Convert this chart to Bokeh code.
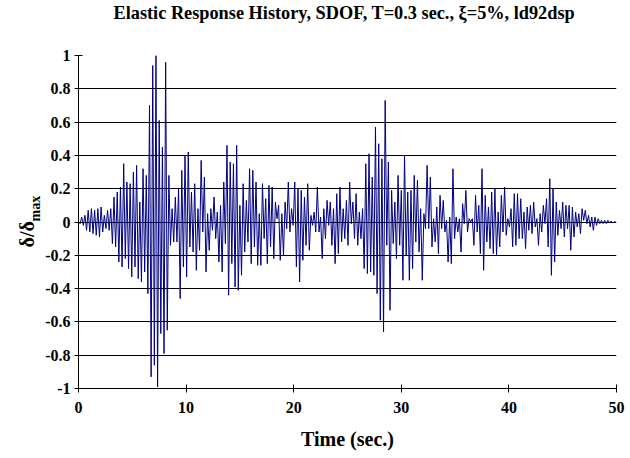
import numpy as np
from bokeh.plotting import figure
from bokeh.models import Title, FixedTicker, Range1d, CustomJSTickFormatter
from bokeh.embed import file_html
from bokeh.resources import INLINE

# ---- data: successive response extremes (delta/delta_max), one every half cycle (0.15 s) ----
half_cycle = 0.15  # s, T = 0.3 s
ext_00_03 = [0.00, -0.01, 0.03, -0.02, 0.04, -0.05, 0.07, -0.06, 0.08, -0.07,
             0.07, -0.08, 0.08, -0.09, 0.09, -0.06, 0.04, -0.04, 0.07, -0.05]
ext_03_06 = [0.08, -0.13, 0.15, -0.15, 0.18, -0.24, 0.21, -0.27, 0.35, -0.22,
             0.24, -0.28, 0.23, -0.33, 0.30, -0.27, 0.34, -0.34, 0.12, -0.36]
ext_06_09 = [0.32, -0.30, 0.28, -0.43, 0.70, -0.93, 0.94, -0.86, 1.00, -0.99,
             0.61, -0.67, 0.45, -0.79, 0.96, -0.65, 0.28, -0.14, 0.08, -0.12]
ext_09_12 = [0.15, -0.12, 0.20, -0.46, 0.31, -0.27, 0.40, -0.33, 0.42, -0.15,
             0.18, -0.18, 0.23, -0.29, 0.08, -0.17, 0.37, -0.06, 0.27, -0.30]
ext_12_15 = [0.05, -0.17, 0.08, -0.05, 0.15, -0.10, 0.06, -0.24, 0.10, -0.30,
             0.24, -0.13, 0.46, -0.44, 0.36, -0.25, 0.35, -0.39, 0.46, -0.41]
ext_15_18 = [0.10, -0.32, 0.23, -0.18, 0.13, -0.12, 0.32, -0.25, 0.31, -0.15,
             0.24, -0.26, 0.05, -0.26, 0.23, -0.10, 0.14, -0.25, 0.22, -0.15]
ext_18_21 = [0.21, -0.22, 0.12, 0.02, 0.10, -0.23, 0.05, -0.20, 0.12, -0.04,
             0.24, -0.06, 0.08, -0.02, 0.24, -0.27, 0.20, -0.36, 0.19, -0.23]
ext_21_24 = [0.15, -0.14, 0.23, -0.17, 0.04, -0.02, 0.06, -0.06, 0.21, -0.06,
             0.03, -0.22, 0.08, -0.10, 0.13, -0.02, 0.12, -0.14, 0.08, -0.25]
ext_24_27 = [0.17, -0.19, 0.21, -0.12, 0.08, -0.10, 0.13, -0.14, 0.24, -0.01,
             0.12, -0.10, 0.17, -0.14, 0.06, -0.10, 0.08, -0.28, 0.35, -0.31]
ext_27_30 = [0.41, -0.30, 0.27, -0.32, 0.57, -0.43, 0.47, -0.59, 0.38, -0.66,
             0.73, -0.14, 0.36, -0.53, 0.19, -0.13, 0.12, -0.22, 0.28, -0.14]
ext_30_33 = [0.19, -0.35, 0.40, -0.20, 0.18, -0.35, 0.19, -0.28, 0.28, -0.12,
             0.25, -0.18, 0.08, -0.35, 0.05, -0.04, 0.34, -0.04, 0.27, -0.15]
ext_33_36 = [0.02, -0.12, 0.09, -0.19, 0.16, -0.04, 0.13, -0.06, 0.01, -0.24,
             0.03, -0.25, 0.32, -0.10, 0.03, -0.06, 0.02, -0.18, 0.11, -0.01]
ext_36_39 = [0.19, -0.06, 0.02, 0.00, 0.02, -0.14, 0.16, -0.06, 0.10, -0.19,
             0.32, -0.29, 0.16, -0.12, 0.09, -0.16, 0.18, -0.19, 0.20, -0.20]
ext_39_42 = [0.06, -0.15, 0.16, -0.06, 0.21, -0.08, 0.02, -0.03, 0.08, -0.15,
             0.17, -0.14, 0.17, -0.10, 0.14, -0.10, 0.06, -0.16, 0.09, -0.05]
ext_42_45 = [0.10, -0.07, 0.12, -0.03, 0.02, -0.14, 0.05, -0.06, 0.10, -0.01,
             0.14, -0.15, 0.26, -0.32, 0.20, -0.24, 0.12, -0.08, 0.07, -0.04]
ext_45_48 = [0.12, -0.09, 0.10, -0.04, 0.10, -0.17, 0.09, -0.09, 0.06, -0.03,
             0.05, -0.07, 0.08, 0.01, 0.07, -0.01, 0.04, -0.03, 0.03, -0.05]
ext_48_50 = [0.03, -0.02, 0.02, -0.01, 0.01, -0.01, 0.01, -0.01, 0.01, -0.005,
             0.005, -0.005, 0.0, 0.0]

x_ticks = [0, 10, 20, 30, 40, 50]
y_ticks = [-1, -0.8, -0.6, -0.4, -0.2, 0, 0.2, 0.4, 0.6, 0.8, 1]

title_text = "Elastic Response History, SDOF, T=0.3 sec., \u03be=5%, ld92dsp"
x_label = "Time (sec.)"
y_label_main = "\u03b4/\u03b4"
y_label_sub = "max"

response = np.array(ext_00_03 + ext_03_06 + ext_06_09 + ext_09_12 + ext_12_15 +
                    ext_15_18 + ext_18_21 + ext_21_24 + ext_24_27 + ext_27_30 +
                    ext_30_33 + ext_33_36 + ext_36_39 + ext_39_42 + ext_42_45 +
                    ext_45_48 + ext_48_50)
time = np.arange(len(response)) * half_cycle

# ---- figure ----
FONT = "Liberation Serif"
p = figure(width=630, height=458, output_backend="svg", toolbar_location=None,
           x_range=Range1d(0, 50), y_range=Range1d(-1, 1),
           min_border_left=78, min_border_right=14, min_border_top=55, min_border_bottom=70)
p.outline_line_color = None
p.background_fill_color = "white"
p.border_fill_color = "white"

p.xgrid.visible = False
p.ygrid.ticker = FixedTicker(ticks=y_ticks)
p.ygrid.grid_line_color = "black"
p.ygrid.grid_line_width = 1

p.xaxis.ticker = FixedTicker(ticks=x_ticks)
p.yaxis.ticker = FixedTicker(ticks=y_ticks)
fmt = CustomJSTickFormatter(code="return tick.toFixed(1).replace(/\\.0$/, '');")
p.yaxis.formatter = fmt
p.xaxis.formatter = fmt

for ax in (p.xaxis[0], p.yaxis[0]):
    ax.axis_line_color = "black"
    ax.axis_line_width = 1
    ax.major_tick_line_color = "black"
    ax.major_tick_in = 4
    ax.major_tick_out = 4
    ax.minor_tick_line_color = None
    ax.major_label_text_font = FONT
    ax.major_label_text_font_style = "bold"
    ax.major_label_text_font_size = "16px"
    ax.major_label_text_color = "black"
p.xaxis.major_label_standoff = 9
p.yaxis.major_label_standoff = 4

p.xaxis.axis_label = x_label
p.xaxis.axis_label_text_font = FONT
p.xaxis.axis_label_text_font_style = "bold"
p.xaxis.axis_label_text_font_size = "20px"
p.xaxis.axis_label_text_color = "black"
p.xaxis.axis_label_standoff = 12

p.line(time, response, line_color="#000080", line_width=1)

# title (spacer panel nearest the frame, then the title text)
p.add_layout(Title(text=" ", text_font_size="1px", standoff=29.5), "above")
p.add_layout(Title(text=title_text, text_font=FONT, text_font_style="bold",
                   text_font_size="18.3px", text_color="black", align="left", offset=35,
                   vertical_align="bottom", standoff=0), "above")

# y axis title: delta/delta with subscript "max"
p.add_layout(Title(text=y_label_sub, text_font=FONT, text_font_style="bold",
                   text_font_size="14px", text_color="black", align="left", offset=167,
                   vertical_align="bottom", standoff=0), "left")
p.add_layout(Title(text=y_label_main, text_font=FONT, text_font_style="bold",
                   text_font_size="20px", text_color="black", align="left", offset=141,
                   vertical_align="bottom", standoff=-24), "left")

open("out.html", "w").write(file_html(p, INLINE))
